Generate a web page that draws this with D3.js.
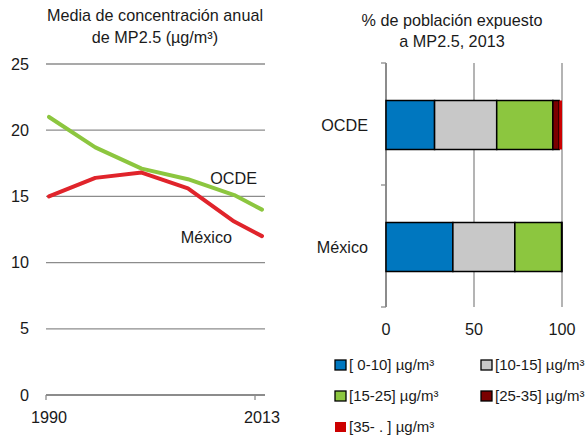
<!DOCTYPE html>
<html>
<head>
<meta charset="utf-8">
<script src="https://cdn.jsdelivr.net/npm/d3@7"></script>
<style>
  body { margin: 0; background: #fff; }
  svg { font-family: "Liberation Sans", Arial, sans-serif; }
  text { fill: #1a1a1a; }
</style>
</head>
<body>
<svg id="chart" width="587" height="438"></svg>
<script>
// left panel: annual mean PM2.5
var years = [1990, 1995, 2000, 2005, 2010, 2013];
var ocdeValues = [21.0, 18.7, 17.1, 16.3, 15.1, 14.0];
var mexicoValues = [15.0, 16.4, 16.8, 15.6, 13.1, 12.0];
var yTicks = [0, 5, 10, 15, 20, 25];
var xTickYears = [1990, 2013];

// right panel: % of population exposed, 2013
var countries = ["OCDE", "México"];
var bandLabels = ["[ 0-10] µg/m³", "[10-15] µg/m³", "[15-25] µg/m³", "[25-35] µg/m³", "[35- . ] µg/m³"];
var bandColors = ["#0077bf", "#c8c8c8", "#8cc63f", "#7a0000", "#cc0000"];
var ocdeShares = [27.6, 35.3, 31.9, 3.6, 1.6];
var mexicoShares = [38.0, 35.2, 26.6, 0.2, 0.0];
var pctTicks = [0, 50, 100];

var gridColor = "#8c8c8c";
var fontSize = "16.2px";
var svg = d3.select("#chart");

// ---------- left: line chart ----------
var x = d3.scaleLinear().domain([1990, 2013]).range([49, 262]);
var y = d3.scaleLinear().domain([0, 25]).range([395, 64]);

var left = svg.append("g").attr("id", "lineChart");

left.append("text")
    .attr("x", 155).attr("y", 21)
    .attr("text-anchor", "middle")
    .style("font-size", fontSize)
    .text("Media de concentración anual");
left.append("text")
    .attr("x", 155).attr("y", 43)
    .attr("text-anchor", "middle")
    .style("font-size", fontSize)
    .text("de MP2.5 (µg/m³)");

// horizontal grid
left.append("g").selectAll("line")
    .data(yTicks)
    .enter()
    .append("line")
    .attr("x1", 46).attr("x2", 265)
    .attr("y1", function(d) { return y(d); })
    .attr("y2", function(d) { return y(d); })
    .attr("stroke", gridColor)
    .attr("stroke-width", function(d) { return d === 0 ? 2 : 1.3; });

left.append("g").selectAll("text")
    .data(yTicks)
    .enter()
    .append("text")
    .attr("x", 29)
    .attr("y", function(d) { return y(d); })
    .attr("dy", "0.35em")
    .attr("text-anchor", "end")
    .style("font-size", fontSize)
    .text(function(d) { return d; });

// x axis ticks + labels
var xTickPos = d3.scaleLinear().domain([1990, 2013]).range([46, 255]);
left.append("g").selectAll("line")
    .data(xTickYears)
    .enter()
    .append("line")
    .attr("x1", function(d) { return xTickPos(d); })
    .attr("x2", function(d) { return xTickPos(d); })
    .attr("y1", y(0)).attr("y2", y(0) + 5)
    .attr("stroke", gridColor)
    .attr("stroke-width", 1.3);
left.append("g").selectAll("text")
    .data(xTickYears)
    .enter()
    .append("text")
    .attr("x", function(d) { return x(d); })
    .attr("y", 423)
    .attr("text-anchor", "middle")
    .style("font-size", fontSize)
    .text(function(d) { return d; });

var line = d3.line()
    .x(function(d, i) { return x(years[i]); })
    .y(function(d) { return y(d); });

left.append("path")
    .datum(ocdeValues)
    .attr("d", line)
    .attr("fill", "none")
    .attr("stroke", "#8cc63f")
    .attr("stroke-width", 4)
    .attr("stroke-linejoin", "round")
    .attr("stroke-linecap", "round");
left.append("path")
    .datum(mexicoValues)
    .attr("d", line)
    .attr("fill", "none")
    .attr("stroke", "#e0242b")
    .attr("stroke-width", 4)
    .attr("stroke-linejoin", "round")
    .attr("stroke-linecap", "round");

left.append("text")
    .attr("x", 257).attr("y", 184)
    .attr("text-anchor", "end")
    .style("font-size", fontSize)
    .text("OCDE");
left.append("text")
    .attr("x", 232).attr("y", 243)
    .attr("text-anchor", "end")
    .style("font-size", fontSize)
    .text("México");

// ---------- right: stacked bars ----------
var right = svg.append("g").attr("id", "barChart");
var px = d3.scaleLinear().domain([0, 100]).range([386, 562]);
var py = d3.scaleBand().domain(countries).range([63, 307]).paddingInner(0).paddingOuter(0);
var barH = 49;

right.append("text")
    .attr("x", 452).attr("y", 26)
    .attr("text-anchor", "middle")
    .style("font-size", fontSize)
    .text("% de población expuesto");
right.append("text")
    .attr("x", 452).attr("y", 47)
    .attr("text-anchor", "middle")
    .style("font-size", fontSize)
    .text("a MP2.5, 2013");

// vertical grid
right.append("g").selectAll("line")
    .data(pctTicks)
    .enter()
    .append("line")
    .attr("x1", function(d) { return px(d); })
    .attr("x2", function(d) { return px(d); })
    .attr("y1", 63).attr("y2", 307)
    .attr("stroke", gridColor)
    .attr("stroke-width", function(d) { return d === 0 ? 2 : 1.3; });

// category ticks on the left axis
right.append("g").selectAll("line")
    .data([63, 63 + py.bandwidth(), 307])
    .enter()
    .append("line")
    .attr("x1", px(0) - 5).attr("x2", px(0))
    .attr("y1", function(d) { return d; })
    .attr("y2", function(d) { return d; })
    .attr("stroke", gridColor)
    .attr("stroke-width", 1.3);

right.append("g").selectAll("text")
    .data(pctTicks)
    .enter()
    .append("text")
    .attr("x", function(d) { return px(d); })
    .attr("y", 335)
    .attr("text-anchor", "middle")
    .style("font-size", fontSize)
    .text(function(d) { return d; });

right.append("g").selectAll("text")
    .data(countries)
    .enter()
    .append("text")
    .attr("x", 368)
    .attr("y", function(d) { return py(d) + py.bandwidth() / 2 + 1; })
    .attr("dy", "0.35em")
    .attr("text-anchor", "end")
    .style("font-size", fontSize)
    .text(function(d) { return d; });

var shares = { "OCDE": ocdeShares, "México": mexicoShares };
countries.forEach(function(c) {
    var acc = 0;
    var segs = shares[c].map(function(v, i) {
        var s = { start: acc, end: acc + v, color: bandColors[i] };
        acc += v;
        return s;
    }).filter(function(s) { return s.end > s.start; });
    var yTop = py(c) + (py.bandwidth() - barH) / 2 + 1;
    right.append("g").selectAll("rect")
        .data(segs)
        .enter()
        .append("rect")
        .attr("x", function(s) { return px(s.start); })
        .attr("width", function(s) { return px(s.end) - px(s.start); })
        .attr("y", yTop)
        .attr("height", barH)
        .attr("fill", function(s) { return s.color; })
        .attr("stroke", function(s) { return s.color === "#cc0000" ? "none" : "#000"; })
        .attr("stroke-width", 1.5);
});

// legend
var legend = right.append("g").attr("id", "legend");
var legendItems = legend.selectAll("g")
    .data(bandLabels)
    .enter()
    .append("g")
    .attr("transform", function(d, i) {
        var lx = (i % 2 === 0) ? 335 : 481;
        var ly = 365 + Math.floor(i / 2) * 31;
        return "translate(" + lx + "," + ly + ")";
    });
legendItems.append("rect")
    .attr("x", 0).attr("y", -5)
    .attr("width", 11).attr("height", 10)
    .attr("fill", function(d, i) { return bandColors[i]; })
    .attr("stroke", function(d, i) { return i === 4 ? "none" : "#000"; })
    .attr("stroke-width", 1.3);
legendItems.append("text")
    .attr("x", 14).attr("y", 0)
    .attr("dy", "0.35em")
    .style("font-size", "15px")
    .text(function(d) { return d; });
</script>
</body>
</html>
